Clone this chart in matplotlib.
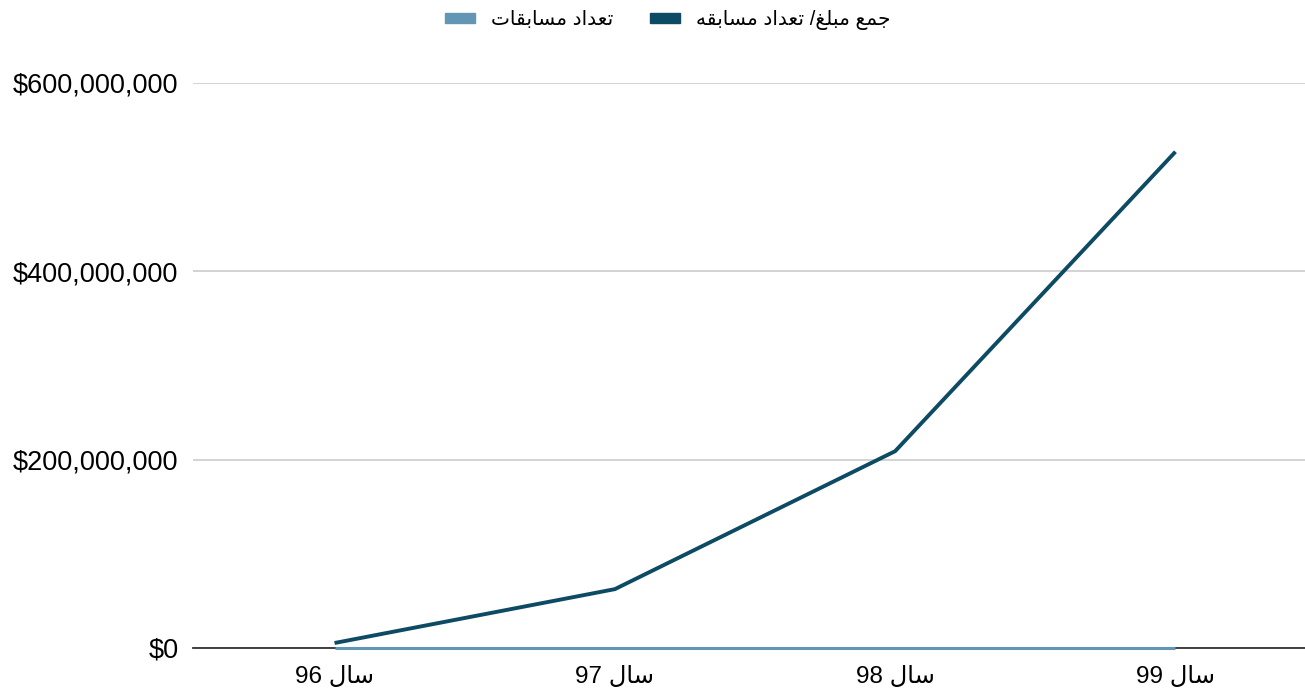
import matplotlib

matplotlib.use("Agg")
import matplotlib.pyplot as plt
from matplotlib.patches import Patch
from matplotlib.ticker import FuncFormatter, FixedLocator

plt.rcParams["font.family"] = ["Liberation Sans", "DejaVu Sans"]

# --- data -------------------------------------------------------------
years = ["سال 96", "سال 97", "سال 98", "سال 99"]
amount_per_contest = [5_300_000, 62_500_000, 209_000_000, 527_000_000]
contest_count = [12, 25, 40, 60]
series_names = ["تعداد مسابقات", "جمع مبلغ/ تعداد مسابقه"]
y_ticks = [0, 200_000_000, 400_000_000, 600_000_000]

DARK = "#0d4a63"
LIGHT = "#6395b5"

# --- minimal Arabic shaping (matplotlib has no complex text layout) ---
# letter: (isolated, final, initial, medial); two-form letters do not join forward
FORMS = {
    "ا": ("\ufe8d", "\ufe8e"),
    "د": ("\ufea9", "\ufeaa"),
    "ب": ("\ufe8f", "\ufe90", "\ufe91", "\ufe92"),
    "ت": ("\ufe95", "\ufe96", "\ufe97", "\ufe98"),
    "ج": ("\ufe9d", "\ufe9e", "\ufe9f", "\ufea0"),
    "س": ("\ufeb1", "\ufeb2", "\ufeb3", "\ufeb4"),
    "ع": ("\ufec9", "\ufeca", "\ufecb", "\ufecc"),
    "غ": ("\ufecd", "\ufece", "\ufecf", "\ufed0"),
    "ق": ("\ufed5", "\ufed6", "\ufed7", "\ufed8"),
    "ل": ("\ufedd", "\ufede", "\ufedf", "\ufee0"),
    "م": ("\ufee1", "\ufee2", "\ufee3", "\ufee4"),
    "ه": ("\ufee9", "\ufeea", "\ufeeb", "\ufeec"),
}


def shape_rtl(text):
    out = []
    for i, ch in enumerate(text):
        if ch not in FORMS:
            out.append(ch)
            continue
        prev = text[i - 1] if i > 0 else ""
        nxt = text[i + 1] if i + 1 < len(text) else ""
        join_prev = prev in FORMS and len(FORMS[prev]) == 4
        join_next = nxt in FORMS and len(FORMS[ch]) == 4
        f = FORMS[ch]
        if join_prev and join_next:
            out.append(f[3])
        elif join_prev:
            out.append(f[1])
        elif join_next:
            out.append(f[2])
        else:
            out.append(f[0])
    visual = "".join(out)[::-1]
    # keep digit runs left-to-right
    res, run = [], []
    for ch in visual:
        if ch.isdigit():
            run.append(ch)
        else:
            res.extend(run[::-1])
            run = []
            res.append(ch)
    res.extend(run[::-1])
    return "".join(res)


# --- plot -------------------------------------------------------------
W, H = 1305, 689
fig = plt.figure(figsize=(W / 100, H / 100), dpi=100)
ax = fig.add_axes([193 / W, (H - 648) / H, 1124 / W, (648 - 83) / H])

x = range(len(years))
ax.plot(x, contest_count, color=LIGHT, lw=2.2, solid_capstyle="butt",
        clip_on=False, zorder=3)
ax.plot(x, amount_per_contest, color=DARK, lw=2.8, solid_capstyle="butt",
        clip_on=False, zorder=4)

ax.set_xlim(-0.505, 3.505)
ax.set_ylim(0, 600_000_000)
ax.yaxis.set_major_locator(FixedLocator(y_ticks))
ax.yaxis.set_major_formatter(FuncFormatter(lambda v, _: f"${v:,.0f}"))
ax.set_xticks(list(x))
ax.set_xticklabels([shape_rtl(s) for s in years])

ax.grid(axis="y", color="#cccccc", lw=1.2)
ax.set_axisbelow(True)
for side in ("top", "right", "left"):
    ax.spines[side].set_visible(False)
ax.spines["bottom"].set_color("#333333")
ax.spines["bottom"].set_linewidth(1.3)
ax.spines["bottom"].set_zorder(2)
ax.tick_params(axis="both", length=0, colors="#000000")
ax.tick_params(axis="y", pad=10.5, labelsize=19.5)
ax.tick_params(axis="x", pad=13, labelsize=17.5)

handles = [Patch(color=LIGHT), Patch(color=DARK)]
fig.legend(
    handles,
    [shape_rtl(s) for s in series_names],
    loc="center",
    bbox_to_anchor=(668 / W, 1 - 20 / H),
    ncol=2,
    frameon=False,
    fontsize=14.5,
    handlelength=1.5,
    handleheight=0.42,
    handletextpad=0.8,
    columnspacing=1.8,
)

fig.savefig("out.png", dpi=100)
